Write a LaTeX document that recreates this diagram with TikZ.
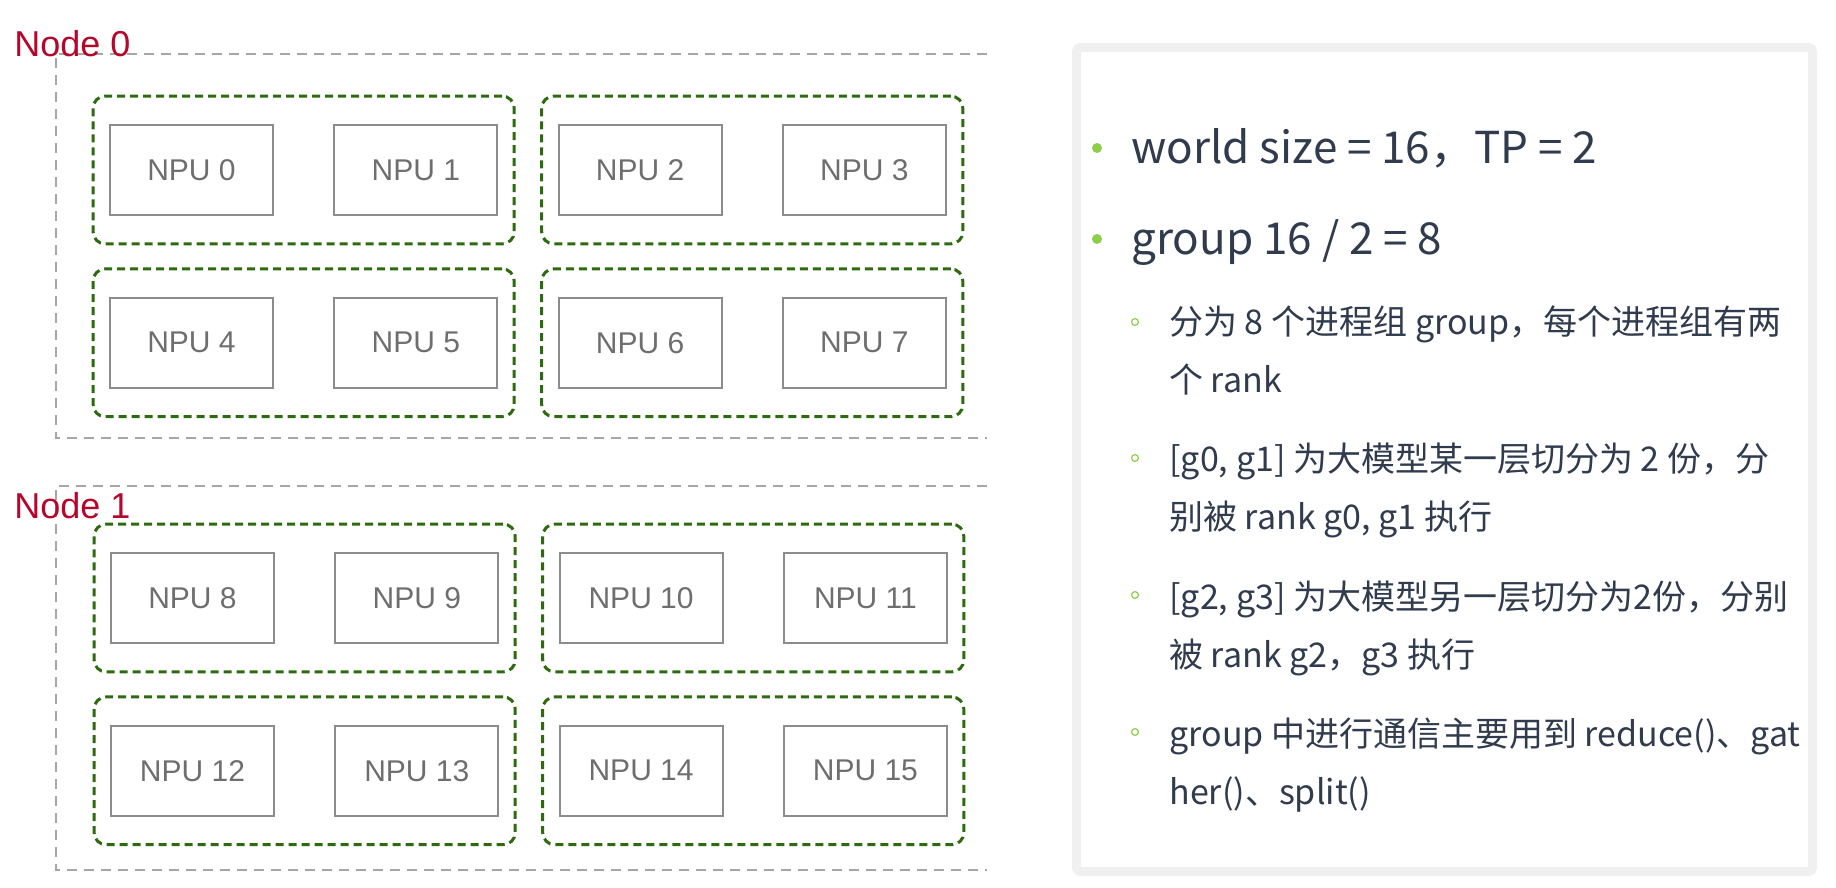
\documentclass[tikz,border=0pt]{standalone}
\usepackage{fontspec}
\setmainfont{Liberation Sans}
\newfontfamily\cjk{Noto Sans CJK SC}
\usepackage{xcolor}
\definecolor{NodeRed}{HTML}{B5062B}
\definecolor{FrameGray}{HTML}{A6A6A6}
\definecolor{GroupGreen}{HTML}{2D6A10}
\definecolor{NpuGray}{HTML}{8C8C8C}
\definecolor{NpuText}{HTML}{6E6E6E}
\definecolor{PanelGray}{HTML}{F0F0F0}
\definecolor{InkNavy}{HTML}{303B4E}
\definecolor{BulletGreen}{HTML}{8DCF4B}
\usetikzlibrary{positioning,fit}

\begin{document}
\begin{tikzpicture}[x=0.5pt,y=-0.5pt,node distance=40.5pt and 29.75pt,
npu/.style={draw=NpuGray,line width=0.9pt,minimum width=81.5pt,minimum height=45pt,text=NpuText,font=\fontsize{15}{18}\selectfont},
grp/.style={draw=GroupGreen,line width=1.5pt,dash pattern=on 4pt off 2.5pt,rounded corners=6pt,inner xsep=8pt,inner ysep=14pt},
nodeline/.style={draw=FrameGray,line width=1pt,dash pattern=on 5pt off 3.5pt},
nodelabel/.style={text=NodeRed,font=\fontsize{18}{20}\selectfont,anchor=base west,inner sep=0pt},
mainitem/.style={text=InkNavy,font=\cjk\fontsize{22}{26}\selectfont,anchor=base west,inner sep=0pt},
subitem/.style={text=InkNavy,font=\cjk\fontsize{17}{29}\selectfont,anchor=base west,inner sep=0pt,align=left},
dotbul/.style={circle,fill=BulletGreen,inner sep=0pt,minimum size=5pt},
ringbul/.style={circle,draw=BulletGreen,line width=0.6pt,inner sep=0pt,minimum size=3.4pt}]
\useasboundingbox (0,0) rectangle (1836,888);

% Node 0
\draw[nodeline] (987,54) -- (56,54) -- (56,438) -- (987,438);
\node[nodelabel] (lab0) at (14,57) {Node 0};
\node[npu] (npu0) at (191.5,170) {NPU 0};
\node[npu,right=of npu0] (npu1) {NPU 1};
\node[npu,right=of npu1] (npu2) {NPU 2};
\node[npu,right=of npu2] (npu3) {NPU 3};
\node[npu,below=of npu0] (npu4) {NPU 4};
\node[npu,right=of npu4] (npu5) {NPU 5};
\node[npu,right=of npu5] (npu6) {NPU 6};
\node[npu,right=of npu6] (npu7) {NPU 7};
\node[grp,fit=(npu0)(npu1)] (g01) {};
\node[grp,fit=(npu2)(npu3)] (g23) {};
\node[grp,fit=(npu4)(npu5)] (g45) {};
\node[grp,fit=(npu6)(npu7)] (g67) {};

% Node 1
\draw[nodeline] (987,486) -- (56,486) -- (56,870) -- (987,870);
\node[nodelabel] (lab1) at (14,518) {Node 1};
\node[npu] (npu8) at (192.5,598) {NPU 8};
\node[npu,right=of npu8] (npu9) {NPU 9};
\node[npu,right=of npu9] (npu10) {NPU 10};
\node[npu,right=of npu10] (npu11) {NPU 11};
\node[npu,below=of npu8] (npu12) {NPU 12};
\node[npu,right=of npu12] (npu13) {NPU 13};
\node[npu,right=of npu13] (npu14) {NPU 14};
\node[npu,right=of npu14] (npu15) {NPU 15};
\node[grp,fit=(npu8)(npu9)] (g89) {};
\node[grp,fit=(npu10)(npu11)] (g1011) {};
\node[grp,fit=(npu12)(npu13)] (g1213) {};
\node[grp,fit=(npu14)(npu15)] (g1415) {};

% notes panel
\node[draw=PanelGray,line width=4.5pt,rounded corners=2pt,minimum width=368pt,minimum height=412pt] (panel) at (1444.5,459.5) {};
\node[dotbul] (dot1) at (1097,148) {};
\node[mainitem] (main1) at (1131,163) {world size = 16，TP = 2};
\node[dotbul] (dot2) at (1097,239) {};
\node[mainitem] (main2) at (1131,254) {group 16 / 2 = 8};
\node[ringbul] (ring1) at (1135,322) {};
\node[subitem] (sub1) at (1169,392) {分为 8 个进程组 group，每个进程组有两\\个 rank};
\node[ringbul] (ring2) at (1135,458) {};
\node[subitem] (sub2) at (1169,529) {[g0, g1] 为大模型某一层切分为 2 份，分\\别被 rank g0, g1 执行};
\node[ringbul] (ring3) at (1135,595) {};
\node[subitem] (sub3) at (1169,667) {[g2, g3] 为大模型另一层切分为2份，分别\\被 rank g2，g3 执行};
\node[ringbul] (ring4) at (1135,732) {};
\node[subitem] (sub4) at (1169,804) {group 中进行通信主要用到 reduce()、gat\\her()、split()};
\end{tikzpicture}
\end{document}
